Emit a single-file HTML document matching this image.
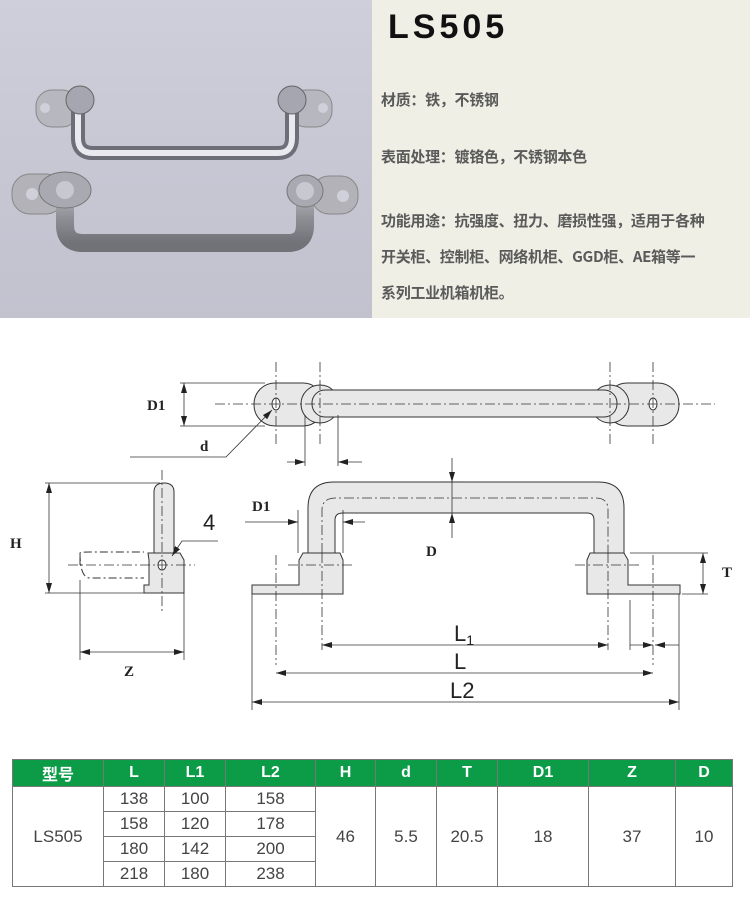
<!DOCTYPE html>
<html><head><meta charset="utf-8"><style>
html,body{margin:0;padding:0;background:#fff}
body{width:750px;height:906px;position:relative;overflow:hidden;font-family:"Liberation Sans","Noto Sans CJK SC",sans-serif}
#photo{position:absolute;left:0;top:0;width:372px;height:318px;background:linear-gradient(180deg,#cfcfdb 0%,#c6c6d3 60%,#c2c2cf 100%)}
#info{position:absolute;left:372px;top:0;width:378px;height:318px;background:#efefe6}
#info .t{position:absolute;left:16px;top:8px;font-size:34px;font-weight:bold;letter-spacing:4px;color:#111;font-family:"Liberation Sans",sans-serif}
#info .l{position:absolute;left:9px;font-size:15px;font-weight:bold;color:#5a5a5a;font-family:"Noto Sans CJK SC",sans-serif;white-space:nowrap;letter-spacing:-0.3px}
table{position:absolute;left:12px;top:759px;border-collapse:collapse;width:721px;font-family:"Liberation Sans","Noto Sans CJK SC",sans-serif}
td,th{border:1px solid #777;text-align:center;padding:0;font-size:17px;color:#444;font-weight:normal}
th{background:#0c9c48;color:#fff;height:26px;font-weight:bold;font-size:16px}
td{height:24px}
</style></head><body>
<div id="photo">
<svg width="372" height="318" viewBox="0 0 372 318">
<defs>
<linearGradient id="ss" x1="0" y1="0" x2="0" y2="1"><stop offset="0" stop-color="#d6d6da"/><stop offset=".5" stop-color="#9a9aa0"/><stop offset="1" stop-color="#6c6c72"/></linearGradient>
</defs>
<rect x="36" y="90" width="42" height="37" rx="16" fill="#b7b7bf" stroke="#888" />
<circle cx="45" cy="108" r="5" fill="#d0d0da"/>
<rect x="290" y="90" width="42" height="37" rx="16" fill="#b7b7bf" stroke="#888"/>
<circle cx="323" cy="108" r="5" fill="#d0d0da"/>
<path d="M78 100 L78 138 Q78 153 93 153 L278 153 Q292 153 292 138 L292 100" fill="none" stroke="#6e6e78" stroke-width="14"/>
<path d="M78 100 L78 138 Q78 153 93 153 L278 153 Q292 153 292 138 L292 100" fill="none" stroke="#e9e9ef" stroke-width="6"/>
<ellipse cx="80" cy="100" rx="14" ry="14" fill="#a6a6b0" stroke="#666"/>
<ellipse cx="292" cy="100" rx="14" ry="14" fill="#a6a6b0" stroke="#666"/>
<rect x="12" y="174" width="52" height="40" rx="18" fill="#b2b2b8" stroke="#888"/>
<circle cx="32" cy="194" r="6" fill="#d0d0da"/>
<rect x="312" y="176" width="46" height="38" rx="17" fill="#b2b2b8" stroke="#888"/>
<circle cx="343" cy="196" r="6" fill="#d0d0da"/>
<path d="M65 192 L65 225 Q65 243 83 243 L288 243 Q305 243 305 225 L305 192" fill="none" stroke="url(#ss)" stroke-width="18"/>
<path d="M65 192 L65 225 Q65 243 83 243 L288 243 Q305 243 305 225 L305 192" fill="none" stroke="#7c7c84" stroke-width="18" opacity=".35"/>
<ellipse cx="65" cy="190" rx="26" ry="18" fill="#a9a9b1" stroke="#777"/>
<ellipse cx="305" cy="191" rx="18" ry="16" fill="#a9a9b1" stroke="#777"/>
<ellipse cx="65" cy="190" rx="9" ry="9" fill="#c8c8d0"/>
<ellipse cx="305" cy="191" rx="9" ry="9" fill="#c8c8d0"/>
</svg>
</div>
<div id="info">
<div class="t">LS505</div>
<div class="l" style="top:89px">材质：铁，不锈钢</div>
<div class="l" style="top:146px">表面处理：镀铬色，不锈钢本色</div>
<div class="l" style="top:210px">功能用途：抗强度、扭力、磨损性强，适用于各种</div>
<div class="l" style="top:246px">开关柜、控制柜、网络机柜、GGD柜、AE箱等一</div>
<div class="l" style="top:282px">系列工业机箱机柜。</div>
</div>

<svg style="position:absolute;left:0;top:0" width="750" height="906" viewBox="0 0 750 906" font-family="Liberation Serif,serif">
<defs>
<marker id="a" markerWidth="10" markerHeight="6" refX="10" refY="3" orient="auto" markerUnits="userSpaceOnUse"><path d="M0 0 L10 3 L0 6 Z" fill="#222"/></marker>
</defs>
<g stroke="#333" stroke-width="1" fill="#e8e8e8">
<rect x="254" y="383" width="70" height="43" rx="21"/>
<rect x="606" y="383" width="73" height="43" rx="21"/>
<circle cx="320" cy="404" r="19"/>
<circle cx="610" cy="404" r="19"/>
<rect x="312" y="390" width="305" height="27" rx="13"/>
<ellipse cx="276" cy="404" rx="4" ry="6" fill="#fff"/>
<ellipse cx="653" cy="404" rx="4" ry="6" fill="#fff"/>
<path d="M80 553 Q80 578 90 578 L144 578" fill="none" stroke-dasharray="8 3 2 3"/>
<path d="M80 565 L80 553 Q80 552 90 552 L144 552" fill="none" stroke-dasharray="8 3 2 3"/>
<path d="M154 553 L154 492 Q154 483 164 483 Q174 483 174 492 L174 553 Z"/>
<path d="M148 553 L180 553 L184 560 L184 593 L144 593 L144 585 L149 585 L149 560 Z"/>
<ellipse cx="162" cy="565" rx="4" ry="5" fill="#fff"/>
<path d="M308 553 L308 508 Q308 482 334 482 L598 482 Q624 482 624 508 L624 553 L594 553 L594 520 Q594 513 587 513 L343 513 Q335 513 335 520 L335 553 Z"/>
<path d="M303 553 L340 553 L343 560 L343 594 L252 594 L252 585 L299 585 L299 560 Z"/>
<path d="M590 553 L624 553 L628 560 L628 585 L680 585 L680 594 L587 594 L587 560 Z"/>
</g>
<g stroke="#333" stroke-width="0.8" fill="none" stroke-dasharray="10 3 2 3">
<line x1="215" y1="404" x2="715" y2="404"/>
<line x1="276" y1="362" x2="276" y2="445"/><line x1="320" y1="362" x2="320" y2="445"/>
<line x1="610" y1="362" x2="610" y2="445"/><line x1="653" y1="362" x2="653" y2="445"/>
<line x1="68" y1="565" x2="195" y2="565"/><line x1="162" y1="470" x2="162" y2="612"/>
<path d="M322 553 L322 510 Q322 498 336 498 L596 498 Q608 498 608 510 L608 553"/>
<line x1="288" y1="565" x2="355" y2="565"/><line x1="575" y1="565" x2="640" y2="565"/>
<line x1="276" y1="555" x2="276" y2="665"/><line x1="653" y1="555" x2="653" y2="665"/>
<line x1="322" y1="553" x2="322" y2="650"/><line x1="608" y1="553" x2="608" y2="650"/>
</g>
<g stroke="#333" stroke-width="0.8" fill="none">
<line x1="180" y1="383" x2="265" y2="383"/><line x1="180" y1="426" x2="265" y2="426"/>
<line x1="184" y1="404" x2="184" y2="383" marker-end="url(#a)"/><line x1="184" y1="404" x2="184" y2="426" marker-end="url(#a)"/>
<polyline points="130,457 226,457 272,410" marker-end="url(#a)"/>
<line x1="305" y1="415" x2="305" y2="466"/><line x1="338" y1="415" x2="338" y2="466"/>
<line x1="287" y1="462" x2="305" y2="462" marker-end="url(#a)"/><line x1="362" y1="462" x2="338" y2="462" marker-end="url(#a)"/>
<line x1="45" y1="483" x2="160" y2="483"/><line x1="45" y1="593" x2="144" y2="593"/>
<line x1="49" y1="538" x2="49" y2="483" marker-end="url(#a)"/><line x1="49" y1="538" x2="49" y2="593" marker-end="url(#a)"/>
<line x1="80" y1="580" x2="80" y2="660"/><line x1="184" y1="593" x2="184" y2="660"/>
<line x1="130" y1="652" x2="80" y2="652" marker-end="url(#a)"/><line x1="130" y1="652" x2="184" y2="652" marker-end="url(#a)"/>
<polyline points="218,541 182,541 172,556" marker-end="url(#a)"/>
<line x1="298" y1="510" x2="298" y2="553"/><line x1="343" y1="510" x2="343" y2="553"/>
<line x1="245" y1="522" x2="298" y2="522" marker-end="url(#a)"/><line x1="365" y1="522" x2="343" y2="522" marker-end="url(#a)"/>
<line x1="452" y1="458" x2="452" y2="482" marker-end="url(#a)"/><line x1="452" y1="538" x2="452" y2="513" marker-end="url(#a)"/>
<line x1="452" y1="482" x2="452" y2="513"/><line x1="440" y1="482" x2="465" y2="482"/>
<line x1="630" y1="553" x2="708" y2="553"/><line x1="682" y1="594" x2="708" y2="594"/>
<line x1="703" y1="573" x2="703" y2="553" marker-end="url(#a)"/><line x1="703" y1="573" x2="703" y2="594" marker-end="url(#a)"/>
<line x1="252" y1="594" x2="252" y2="710"/><line x1="679" y1="594" x2="679" y2="710"/>
<line x1="630" y1="600" x2="630" y2="650"/>
<line x1="465" y1="645" x2="322" y2="645" marker-end="url(#a)"/><line x1="465" y1="645" x2="608" y2="645" marker-end="url(#a)"/>
<line x1="465" y1="673" x2="276" y2="673" marker-end="url(#a)"/><line x1="465" y1="673" x2="653" y2="673" marker-end="url(#a)"/>
<line x1="465" y1="702" x2="252" y2="702" marker-end="url(#a)"/><line x1="465" y1="702" x2="679" y2="702" marker-end="url(#a)"/>
<line x1="630" y1="645" x2="653" y2="645" marker-end="url(#a)"/><line x1="679" y1="645" x2="655" y2="645" marker-end="url(#a)"/>
</g>
<g fill="#222" font-weight="bold" font-size="15">
<text x="147" y="410">D1</text>
<text x="200" y="451">d</text>
<text x="10" y="548">H</text>
<text x="124" y="676">Z</text>
<text x="252" y="511">D1</text>
<text x="426" y="556">D</text>
<text x="722" y="577">T</text>
</g>
<g fill="#222" font-family="Liberation Sans,sans-serif" font-size="22">
<text x="203" y="530">4</text>
<text x="454" y="641">L<tspan font-size="14" dy="4">1</tspan></text>
<text x="454" y="669">L</text>
<text x="450" y="698">L2</text>
</g>
</svg>

<table>
<tr><th style="width:90px">型号</th><th style="width:60px">L</th><th style="width:60px">L1</th><th style="width:89px">L2</th><th style="width:59px">H</th><th style="width:60px">d</th><th style="width:60px">T</th><th style="width:90px">D1</th><th style="width:86px">Z</th><th>D</th></tr>
<tr><td rowspan="4">LS505</td><td>138</td><td>100</td><td>158</td><td rowspan="4">46</td><td rowspan="4">5.5</td><td rowspan="4">20.5</td><td rowspan="4">18</td><td rowspan="4">37</td><td rowspan="4">10</td></tr>
<tr><td>158</td><td>120</td><td>178</td></tr>
<tr><td>180</td><td>142</td><td>200</td></tr>
<tr><td>218</td><td>180</td><td>238</td></tr>
</table>
</body></html>
